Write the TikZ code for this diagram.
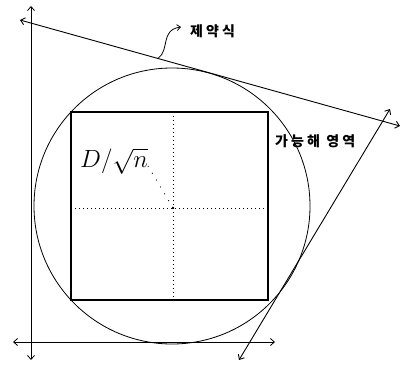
\documentclass[tikz,border=0pt]{standalone}
\usepackage{fontspec}
\newfontfamily\krfont[LetterSpace=22]{Noto Sans CJK KR}
\usetikzlibrary{arrows.meta,positioning,calc}

\begin{document}
\begin{tikzpicture}[x=1pt,y=-1pt,
		axis/.style={line width=0.8pt,{Straight Barb[length=4pt,width=7pt]}-{Straight Barb[length=4pt,width=7pt]}},
		cons/.style={line width=0.9pt,{Straight Barb[length=4pt,width=7pt]}-{Straight Barb[length=4pt,width=7pt]}},
		box/.style={line width=1.8pt},
		guide/.style={line width=0.8pt,dash pattern=on 1pt off 3pt},
		lbl/.style={font=\krfont\fontsize{14}{14}\selectfont\bfseries,inner sep=0pt,anchor=west},
		pointer/.style={line width=0.8pt,-{Straight Barb[length=3.5pt,width=6pt]}}
	]
	\useasboundingbox (0,0) rectangle (406,364);
	% axes
	\coordinate (ytop) at (31,6);
	\coordinate (ybot) at (31,360);
	\coordinate (xleft) at (13,342);
	\coordinate (xright) at (275,342);
	\draw[axis] (ybot) -- (ytop);
	\draw[axis] (xleft) -- (xright);
	% ball and box
	\coordinate (c) at (172,206);
	\draw[line width=0.8pt] (c) circle[radius=138pt];
	\draw[box] (71,112) rectangle (268,300);
	\draw[guide] (173,112) -- (173,300);
	\draw[guide] (71,208) -- (268,208);
	\fill (173,208) circle[radius=1.3pt];
	\draw[line width=0.8pt,dash pattern=on 1pt off 7pt] (173,208) -- (148,166);
	\node (rad) at (114,161) {\fontsize{24}{24}\selectfont$D/\sqrt{n}$};
	% constraints
	\coordinate (c1a) at (20,20);
	\coordinate (c1b) at (400,126);
	\coordinate (c2a) at (239,360);
	\coordinate (c2b) at (390,109);
	\draw[cons] (c1a) -- (c1b);
	\draw[cons] (c2a) -- (c2b);
	\node[lbl] (conslbl) at (190,31) {제약식};
	\node[lbl] (feas) at (275,141) {가능해 영역};
	\coordinate (hook) at ($(c1a)!0.363!(c1b)$);
	\draw[pointer] (hook) .. controls (170,50) and (160,30) .. ([xshift=-9pt,yshift=4pt]conslbl.west);
\end{tikzpicture}
\end{document}
